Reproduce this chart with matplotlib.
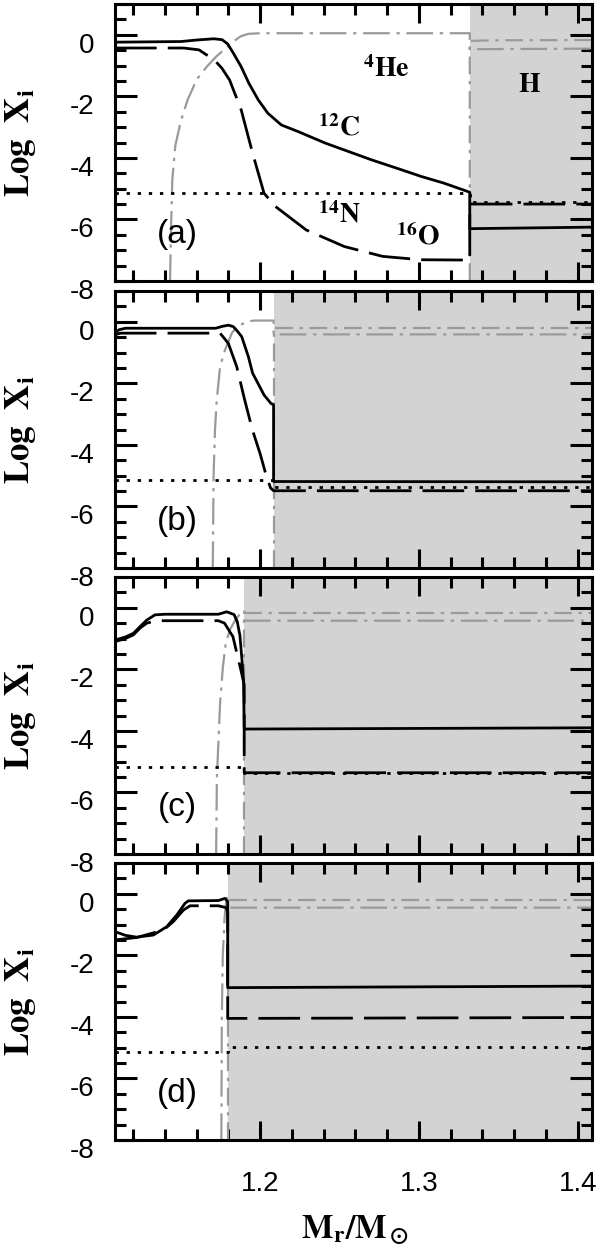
import numpy as np
import matplotlib
matplotlib.use('Agg')
import matplotlib.pyplot as plt
from matplotlib.ticker import MultipleLocator, FixedLocator
from matplotlib.transforms import ScaledTranslation

plt.rcParams['font.family'] = ['Liberation Sans', 'DejaVu Sans']
plt.rcParams['mathtext.fontset'] = 'stix'

# ---------------- data ----------------
panel_labels = ['(a)', '(b)', '(c)', '(d)']
shade_start = [1.332, 1.2084, 1.1899, 1.1795]
x_min, x_max = 1.1085, 1.409
y_min, y_max = -8.0, 1.0
x_major_ticks = [1.2, 1.3, 1.4]
x_tick_labels = ['1.2', '1.3', '1.4']
y_major_ticks = [-8, -6, -4, -2, 0]
y_tick_labels = ['-8', '-6', '-4', '-2', '0']

# panel (a)
m_a_C = [1.1085, 1.150, 1.160, 1.1708, 1.176, 1.1795, 1.1831, 1.188, 1.1928, 1.1988, 1.2048, 1.2133,
         1.2241, 1.241, 1.2699, 1.2892, 1.3012, 1.3157, 1.3306, 1.332, 1.332, 1.409]
X_a_C = [-0.24, -0.22, -0.17, -0.13, -0.16, -0.30, -0.60, -1.04, -1.57, -2.12, -2.55, -2.93,
         -3.15, -3.52, -4.06, -4.39, -4.60, -4.82, -5.09, -5.12, -6.30, -6.25]
m_a_N = [1.1085, 1.1518, 1.1614, 1.1711, 1.1759, 1.1807, 1.188, 1.1952, 1.2024, 1.2096, 1.2289,
         1.253, 1.2771, 1.3012, 1.332, 1.332, 1.409]
X_a_N = [-0.43, -0.43, -0.49, -0.82, -1.09, -1.47, -2.44, -3.85, -5.15, -5.58, -6.34,
         -6.88, -7.20, -7.31, -7.32, -5.50, -5.50]
m_a_O = [1.1085, 1.332, 1.332, 1.409]
X_a_O = [-5.15, -5.15, -5.42, -5.42]
m_a_He = [1.1432, 1.1437, 1.1446, 1.1465, 1.150, 1.1542, 1.160, 1.1663, 1.172, 1.178, 1.183,
          1.1877, 1.1925, 1.200, 1.332, 1.332, 1.409]
X_a_He = [-8.0, -6.5, -4.71, -3.6, -2.8, -2.12, -1.45, -1.04, -0.72, -0.45, -0.22,
          -0.05, 0.03, 0.05, 0.05, -0.47, -0.45]
m_a_H = [1.332, 1.332, 1.345, 1.409]
X_a_H = [-8.0, -0.20, -0.18, -0.17]

# panel (b)
m_b_C = [1.1085, 1.111, 1.115, 1.172, 1.176, 1.180, 1.1831, 1.1855, 1.1883, 1.1925, 1.1952,
         1.2024, 1.2067, 1.2084, 1.2084, 1.409]
X_b_C = [-0.37, -0.26, -0.21, -0.21, -0.15, -0.11, -0.16, -0.30, -0.48, -1.13, -1.67,
         -2.38, -2.65, -2.70, -5.19, -5.20]
m_b_N = [1.1085, 1.112, 1.1747, 1.1799, 1.1852, 1.190, 1.195, 1.200, 1.2035, 1.2065, 1.2084, 1.409]
X_b_N = [-0.42, -0.37, -0.37, -0.70, -1.46, -2.50, -3.50, -4.30, -4.95, -5.40, -5.49, -5.49]
m_b_O = [1.1085, 1.2084, 1.2084, 1.409]
X_b_O = [-5.14, -5.14, -5.37, -5.37]
m_b_He = [1.1701, 1.1706, 1.1715, 1.1726, 1.1747, 1.1778, 1.1821, 1.1852, 1.1915, 1.196,
          1.2084, 1.2084, 1.409]
X_b_He = [-8.0, -5.0, -3.5, -2.54, -1.46, -0.92, -0.37, -0.16, 0.0, 0.04,
          0.04, -0.41, -0.41]
m_b_H = [1.2084, 1.2084, 1.409]
X_b_H = [-8.0, -0.19, -0.19]

# panel (c)
m_c_C = [1.1085, 1.115, 1.1201, 1.1245, 1.1285, 1.1337, 1.140, 1.1736, 1.1789, 1.1835, 1.1855,
         1.1872, 1.1885, 1.1895, 1.1899, 1.409]
X_c_C = [-1.05, -0.95, -0.83, -0.60, -0.40, -0.23, -0.21, -0.21, -0.13, -0.22, -0.45,
         -0.90, -1.70, -2.40, -3.94, -3.90]
m_c_N = [1.1085, 1.115, 1.1201, 1.1245, 1.1285, 1.1347, 1.1736, 1.1775, 1.1828, 1.1877, 1.1899,
         1.1899, 1.409]
X_c_N = [-1.10, -1.00, -0.88, -0.65, -0.50, -0.42, -0.42, -0.50, -0.94, -2.00, -2.50,
         -5.36, -5.36]
m_c_O = [1.1085, 1.1899, 1.1899, 1.409]
X_c_O = [-5.16, -5.16, -5.36, -5.36]
m_c_He = [1.1722, 1.1727, 1.1747, 1.1765, 1.1783, 1.181, 1.1843, 1.1875, 1.1899, 1.1899, 1.409]
X_c_He = [-8.0, -5.5, -3.1, -1.9, -1.15, -0.70, -0.40, -0.18, -0.08, -0.42, -0.42]
m_c_H = [1.1899, 1.1899, 1.409]
X_c_H = [-8.0, -0.18, -0.18]

# panel (d)
m_d_C = [1.1085, 1.115, 1.1222, 1.1327, 1.1411, 1.1474, 1.1526, 1.1547, 1.1736, 1.1778, 1.1795,
         1.1795, 1.409]
X_d_C = [-1.23, -1.35, -1.41, -1.34, -1.07, -0.69, -0.31, -0.23, -0.22, -0.15, -0.25,
         -3.05, -3.00]
m_d_N = [1.1085, 1.1222, 1.139, 1.1453, 1.1516, 1.1558, 1.1736, 1.1785, 1.1795, 1.1795, 1.409]
X_d_N = [-1.50, -1.42, -1.18, -0.90, -0.53, -0.39, -0.39, -0.45, -0.60, -4.05, -4.02]
m_d_O = [1.1085, 1.1795, 1.1795, 1.409]
X_d_O = [-5.15, -5.15, -4.97, -4.97]
m_d_He = [1.1755, 1.1758, 1.1764, 1.1775, 1.1786, 1.1795, 1.1795, 1.409]
X_d_He = [-8.0, -4.0, -2.0, -0.8, -0.2, -0.05, -0.45, -0.45]
m_d_H = [1.1795, 1.1795, 1.409]
X_d_H = [-8.0, -0.20, -0.20]

panels_data = [
    (m_a_C, X_a_C, m_a_N, X_a_N, m_a_O, X_a_O, m_a_He, X_a_He, m_a_H, X_a_H),
    (m_b_C, X_b_C, m_b_N, X_b_N, m_b_O, X_b_O, m_b_He, X_b_He, m_b_H, X_b_H),
    (m_c_C, X_c_C, m_c_N, X_c_N, m_c_O, X_c_O, m_c_He, X_c_He, m_c_H, X_c_H),
    (m_d_C, X_d_C, m_d_N, X_d_N, m_d_O, X_d_O, m_d_He, X_d_He, m_d_H, X_d_H),
]

species_labels = [r'$^{\mathbf{4}}\mathbf{He}$', r'$^{\mathbf{12}}\mathbf{C}$',
                  r'$^{\mathbf{14}}\mathbf{N}$', r'$^{\mathbf{16}}\mathbf{O}$', r'$\mathbf{H}$']
species_label_x = [1.2795, 1.2499, 1.2499, 1.2993, 1.3699]
species_label_y = [-1.14, -3.04, -5.85, -6.55, -1.63]

# ---------------- figure ----------------
W, H = 600, 1255
fig = plt.figure(figsize=(W / 100, H / 100), dpi=100)
left_px, right_px = 115, 592
panel_tops = [4, 291, 577, 863]
panel_h = 277

gray = '#9a9a9a'
shade = '#d3d3d3'
down = ScaledTranslation(0, -8 / 100, fig.dpi_scale_trans)

axes = []
for i, top in enumerate(panel_tops):
    ax = fig.add_axes([left_px / W, 1 - (top + panel_h) / H,
                       (right_px - left_px) / W, panel_h / H])
    axes.append(ax)
    (mC, XC, mN, XN, mO, XO, mHe, XHe, mH, XH) = panels_data[i]

    ax.axvspan(shade_start[i], x_max, color=shade, lw=0, zorder=0)

    ax.plot(mH, XH, color=gray, lw=1.6, dashes=(8, 3, 1.5, 3), zorder=2)
    ax.plot(mHe, XHe, color=gray, lw=1.6, dashes=(12, 3, 1.5, 3), zorder=2)
    ax.plot(mO, XO, color='black', lw=2.0, dashes=(1.2, 2.8), zorder=3)
    ax.plot(mN, XN, color='black', lw=2.0, dashes=(15, 4), zorder=3)
    ax.plot(mC, XC, color='black', lw=2.0, zorder=3)

    ax.set_xlim(x_min, x_max)
    ax.set_ylim(y_min, y_max)

    ax.xaxis.set_major_locator(FixedLocator(x_major_ticks))
    ax.xaxis.set_minor_locator(MultipleLocator(0.02))
    ax.yaxis.set_major_locator(FixedLocator(y_major_ticks))
    ax.yaxis.set_minor_locator(MultipleLocator(0.5))
    ax.set_yticklabels(y_tick_labels)
    if i == 3:
        ax.set_xticklabels(x_tick_labels)
    else:
        ax.set_xticklabels([])

    ax.tick_params(which='both', direction='in', top=True, right=True, width=2.2, color='black')
    ax.tick_params(which='major', axis='y', length=16, pad=15, labelsize=20)
    ax.tick_params(which='major', axis='x', length=14, pad=22, labelsize=20)
    ax.tick_params(which='minor', length=8)
    for sp in ax.spines.values():
        sp.set_linewidth(2.2)
        sp.set_zorder(5)
    for lab in ax.get_yticklabels():
        lab.set_transform(lab.get_transform() + down)

    ax.text(1.148, -6.5, panel_labels[i], fontsize=24, ha='center', va='center',
            family='Liberation Sans', zorder=6)

    fig.text(21 / W, 1 - (top + panel_h / 2) / H, r'$\mathbf{Log\ \ X_i}$', rotation=90,
             ha='center', va='center', fontsize=25)

for lab, lx, ly in zip(species_labels, species_label_x, species_label_y):
    axes[0].text(lx, ly, lab, fontsize=20, ha='center', va='center', zorder=6)

fig.text(355 / W, 1 - 1230 / H, r'$\mathbf{M_r/M_\odot}$', ha='center', va='center', fontsize=24)

fig.savefig('out.png', dpi=100)
